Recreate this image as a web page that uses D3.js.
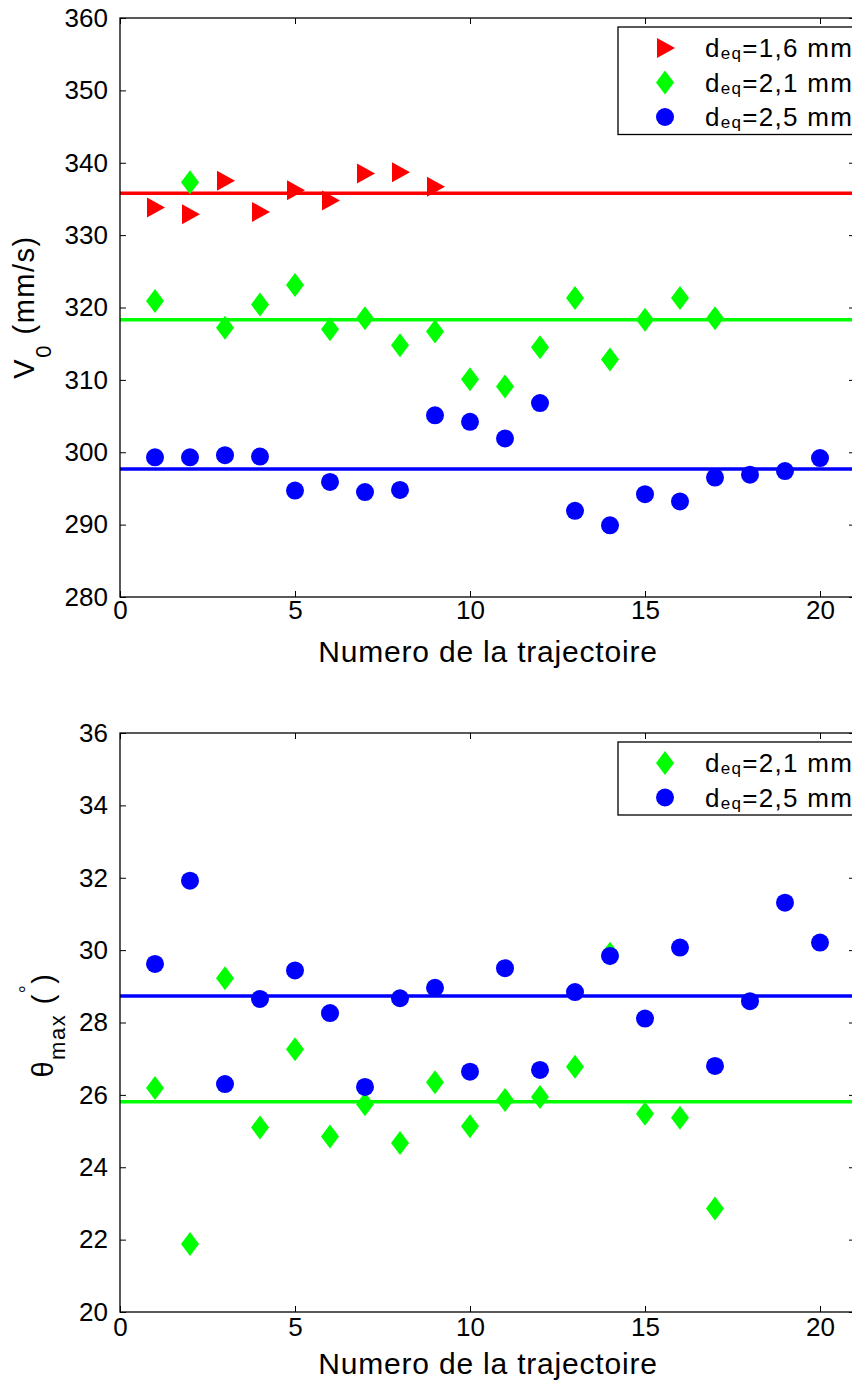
<!DOCTYPE html>
<html><head><meta charset="utf-8">
<script src="https://cdn.jsdelivr.net/npm/d3@7"></script>
<style>
body{margin:0;background:#fff;}
svg{display:block;font-family:"Liberation Sans",Arial,sans-serif;}
</style></head>
<body>
<svg id="c" width="852" height="1386"></svg>
<script>
// ---- data ----
const xTicks = [0, 5, 10, 15, 20];
const vTicks = [280, 290, 300, 310, 320, 330, 340, 350, 360];
const tTicks = [20, 22, 24, 26, 28, 30, 32, 34, 36];

const v16 = [333.8, 332.9, 337.5, 333.2, 336.2, 334.8, 338.5, 338.7, 336.7];
const v21 = [320.9, 337.3, 317.2, 320.4, 323.1, 317.0, 318.5, 314.8, 316.7, 310.1,
             309.1, 314.5, 321.3, 312.8, 318.3, 321.3, 318.5];
const v25 = [299.3, 299.3, 299.6, 299.4, 294.7, 295.9, 294.5, 294.8, 305.1, 304.2,
             301.9, 306.8, 291.9, 289.9, 294.2, 293.2, 296.5, 296.9, 297.4, 299.2];
const vMean = {d16: 335.8, d21: 318.3, d25: 297.7};

const t21 = [26.19, 21.88, 29.22, 25.10, 27.26, 24.85, 25.74, 24.67, 26.35, 25.13,
             25.86, 25.94, 26.78, 29.90, 25.48, 25.37, 22.86];
const t25 = [29.62, 31.92, 26.30, 28.65, 29.44, 28.26, 26.22, 28.67, 28.96, 26.64,
             29.50, 26.69, 28.84, 29.84, 28.11, 30.07, 26.80, 28.59, 31.31, 30.21];
const tMean = {d21: 25.81, d25: 28.73};

const legendTop = ["1,6", "2,1", "2,5"];
const legendBot = ["2,1", "2,5"];
const xLabel = "Numero de la trajectoire";

const RED = "#ff0000", GREEN = "#00ff00", BLUE = "#0000ff";

const svg = d3.select("#c");

function marker(g, type, color, x, y) {
  if (type === "tri") {
    g.append("path").attr("d", `M${x-8},${y-10}L${x+10},${y}L${x-8},${y+10}Z`).attr("fill", color);
  } else if (type === "dia") {
    g.append("path").attr("d", `M${x},${y-12}L${x+9},${y}L${x},${y+12}L${x-9},${y}Z`).attr("fill", color);
  } else {
    g.append("circle").attr("cx", x).attr("cy", y).attr("r", 9).attr("fill", color);
  }
}

function panel(cfg) {
  const x = d3.scaleLinear().domain([0, 21]).range([120, 855]);
  const y = d3.scaleLinear().domain(cfg.yDomain).range([cfg.bottom, cfg.top]);
  const g = svg.append("g");

  cfg.means.forEach(m => {
    g.append("line").attr("x1", x(0)).attr("x2", x(21))
      .attr("y1", y(m.v)).attr("y2", y(m.v))
      .attr("stroke", m.color).attr("stroke-width", 3.5);
  });
  cfg.series.forEach(s => {
    s.values.forEach((v, i) => marker(g, s.type, s.color, x(i + 1), y(v)));
  });

  g.append("rect").attr("x", x(0)).attr("y", cfg.top)
    .attr("width", x(21) - x(0)).attr("height", cfg.bottom - cfg.top)
    .attr("fill", "none").attr("stroke", "#000").attr("stroke-width", 1.3);

  const ax = g.append("g").attr("transform", `translate(0,${cfg.bottom})`)
    .call(d3.axisBottom(x).tickValues(xTicks).tickSizeInner(-6).tickSizeOuter(0).tickPadding(cfg.xPad));
  const axT = g.append("g").attr("transform", `translate(0,${cfg.top})`)
    .call(d3.axisTop(x).tickValues(xTicks).tickSizeInner(-6).tickSizeOuter(0).tickFormat(""));
  const ay = g.append("g").attr("transform", `translate(${x(0)},0)`)
    .call(d3.axisLeft(y).tickValues(cfg.yTicks).tickSizeInner(-6).tickSizeOuter(0).tickPadding(12));
  const ayR = g.append("g").attr("transform", `translate(${x(21)},0)`)
    .call(d3.axisRight(y).tickValues(cfg.yTicks).tickSizeInner(-6).tickSizeOuter(0).tickFormat(""));
  [ax, axT, ay, ayR].forEach(a => {
    a.select(".domain").remove();
    a.selectAll("line").attr("stroke", "#000").attr("stroke-width", 1);
    a.selectAll("text").attr("font-size", 26).attr("fill", "#000")
      .attr("font-family", '"Liberation Sans",Arial,sans-serif');
  });

  g.append("text").attr("x", 488).attr("y", cfg.bottom + cfg.labOff)
    .attr("text-anchor", "middle").attr("font-size", 30).attr("letter-spacing", 0.8).text(xLabel);

  const lg = g.append("g");
  const lh = cfg.legend.length * 34.5 + 4;
  lg.append("rect").attr("x", 618).attr("y", cfg.top + 9).attr("width", 250).attr("height", lh)
    .attr("fill", "#fff").attr("stroke", "#000").attr("stroke-width", 1.3);
  cfg.legend.forEach((l, i) => {
    const cy = cfg.top + 30 + i * 34.5;
    marker(lg, l.type, l.color, 665, cy);
    const t = lg.append("text").attr("x", 705).attr("y", cy + 9).attr("font-size", 26).attr("letter-spacing", 1.3);
    t.append("tspan").text("d");
    t.append("tspan").attr("font-size", 17).attr("dy", 2).text("eq");
    t.append("tspan").attr("dy", -2).text("=" + l.label + " mm");
  });
  return g;
}

panel({
  top: 18, bottom: 597, yDomain: [280, 360], yTicks: vTicks, xPad: 4, labOff: 65,
  means: [{v: vMean.d16, color: RED}, {v: vMean.d21, color: GREEN}, {v: vMean.d25, color: BLUE}],
  series: [{values: v16, type: "tri", color: RED}, {values: v21, type: "dia", color: GREEN}, {values: v25, type: "circ", color: BLUE}],
  legend: [{label: legendTop[0], type: "tri", color: RED}, {label: legendTop[1], type: "dia", color: GREEN}, {label: legendTop[2], type: "circ", color: BLUE}]
});
const yl1 = svg.append("text").attr("transform", "translate(34,307) rotate(-90)")
  .attr("text-anchor", "middle").attr("font-size", 29).attr("letter-spacing", 1.5);
yl1.append("tspan").text("V");
yl1.append("tspan").attr("font-size", 22).attr("dy", 17).text("0");
yl1.append("tspan").attr("dy", -17).text(" (mm/s)");

panel({
  top: 733, bottom: 1312, yDomain: [20, 36], yTicks: tTicks, xPad: 6, labOff: 62,
  means: [{v: tMean.d21, color: GREEN}, {v: tMean.d25, color: BLUE}],
  series: [{values: t21, type: "dia", color: GREEN}, {values: t25, type: "circ", color: BLUE}],
  legend: [{label: legendBot[0], type: "dia", color: GREEN}, {label: legendBot[1], type: "circ", color: BLUE}]
});
const yl2 = svg.append("text").attr("transform", "translate(53,1025) rotate(-90)")
  .attr("text-anchor", "middle").attr("font-size", 29).attr("letter-spacing", 1.5);
yl2.append("tspan").text("θ");
yl2.append("tspan").attr("font-size", 22).attr("dy", 12).text("max");
yl2.append("tspan").attr("dy", -12).text(" (");
yl2.append("tspan").attr("font-size", 20).attr("dy", -19).text("°");
yl2.append("tspan").attr("dy", 19).text(")");
</script>
</body></html>
